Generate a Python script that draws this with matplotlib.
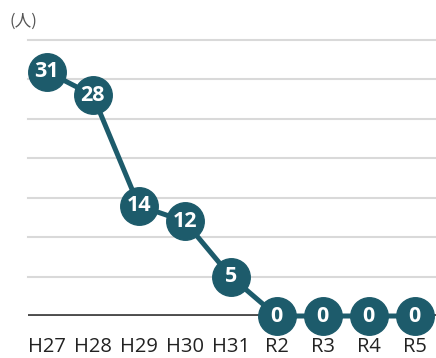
import matplotlib.pyplot as plt

years = ['H27', 'H28', 'H29', 'H30', 'H31', 'R2', 'R3', 'R4', 'R5']
counts = [31, 28, 14, 12, 5, 0, 0, 0, 0]
grid_levels = [5, 10, 15, 20, 25, 30, 35]

teal = '#1d5b6b'

fig = plt.figure(figsize=(4.36, 3.58), dpi=100)
ax = fig.add_axes([0.064, 0.1173, 0.936, 0.771])

x = list(range(len(years)))
for g in grid_levels:
    ax.axhline(g, color='#d9d9d9', lw=1.5, zorder=1, clip_on=False)
ax.axhline(0, color='#4d4d4d', lw=2.8, zorder=2)

ax.plot(x, counts, color=teal, lw=3.6, marker='o', markersize=27,
        markerfacecolor=teal, markeredgecolor=teal, zorder=3, clip_on=False)
for xi, v in zip(x, counts):
    ax.text(xi, v, str(v), color='white', fontsize=15.5, fontweight='bold',
            ha='center', va='center', family='Open Sans', zorder=4)

ax.set_xlim(-0.41, 8.46)
ax.set_ylim(0, 35)
ax.set_xticks(x)
ax.set_xticklabels(years, fontsize=14.5, family='Open Sans', color='#222222')
ax.tick_params(axis='x', length=0, pad=15)
ax.set_yticks([])
for s in ax.spines.values():
    s.set_visible(False)

fig.text(0.022, 0.94, '(人)', fontsize=12, family=['Noto Sans CJK JP', 'DejaVu Sans'],
         color='#555555', ha='left', va='center')

fig.savefig('out.png', dpi=100)
